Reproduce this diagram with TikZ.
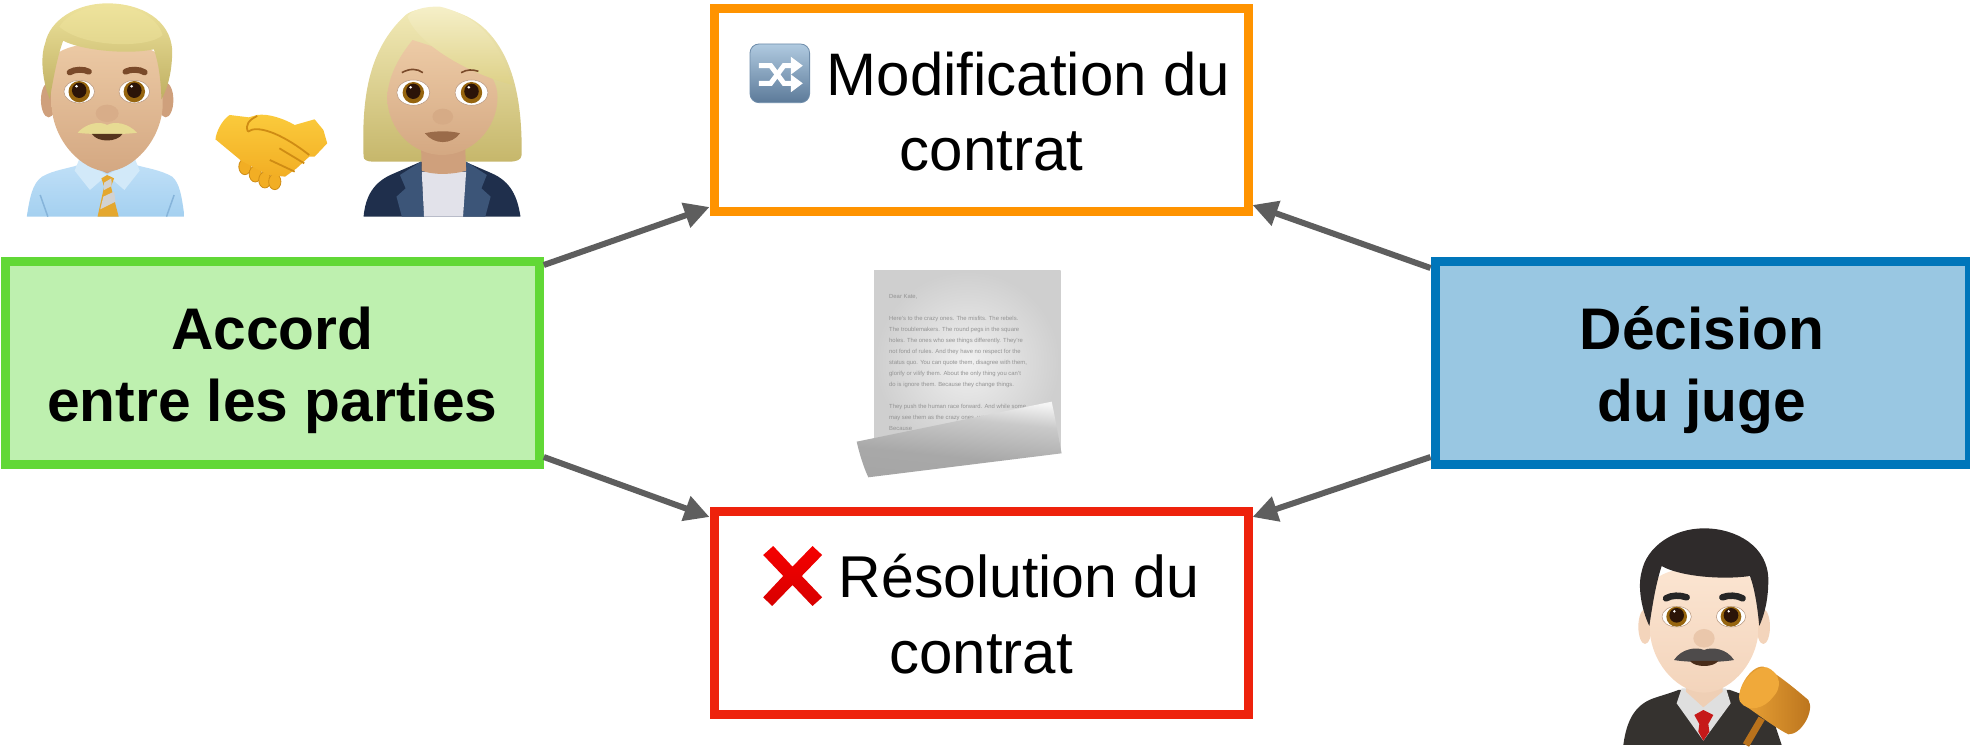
\documentclass[tikz,border=0pt]{standalone}
\usepackage{fontspec}
\setmainfont{Liberation Sans}
\usetikzlibrary{arrows.meta}
\definecolor{orangeB}{HTML}{FF9300}
\definecolor{redB}{HTML}{EE220C}
\definecolor{greenB}{HTML}{61D836}
\definecolor{greenF}{HTML}{BEF0AF}
\definecolor{blueB}{HTML}{0076BA}
\definecolor{blueF}{HTML}{99C7E2}
\definecolor{arrowG}{HTML}{5E5E5E}
\definecolor{shirtA}{HTML}{BFDFF7}
\definecolor{shirtB}{HTML}{A4D0F0}
\definecolor{shirtC}{HTML}{86B4DA}
\definecolor{skinA}{HTML}{EDCBA6}
\definecolor{skinB}{HTML}{D4A882}
\definecolor{skinD}{HTML}{CFA07C}
\definecolor{hairA}{HTML}{EEE39C}
\definecolor{hairB}{HTML}{BFAF62}
\definecolor{browM}{HTML}{7A4A2A}
\definecolor{irisC}{HTML}{96650F}
\definecolor{pupilC}{HTML}{2B1408}
\definecolor{goldT}{HTML}{E4A72E}
\definecolor{navyA}{HTML}{1F2F4C}
\definecolor{navyB}{HTML}{3C5578}
\definecolor{yellowA}{HTML}{FBCB3C}
\definecolor{yellowB}{HTML}{F2AE24}
\definecolor{yellowC}{HTML}{CF8C14}
\definecolor{jskinA}{HTML}{FCE6D3}
\definecolor{jskinB}{HTML}{F3D4BB}
\definecolor{jhair}{HTML}{2F2B2B}
\definecolor{robeC}{HTML}{35322F}
\definecolor{gavelA}{HTML}{F0A93A}
\definecolor{gavelB}{HTML}{B9721C}
\pgfdeclareverticalshading{curlshade}{100bp}{color(0bp)=(gray!45); color(25bp)=(gray!70); color(40bp)=(gray!68); color(62bp)=(gray!42); color(75bp)=(gray!8); color(100bp)=(white)}
\newcommand{\emojieye}[8]{%
  \fill[white] (#1,#2) ellipse [x radius=#3,y radius=#4];
  \draw[skinD!70!gray,line width=.5pt] (#1,#2) ellipse [x radius=#3,y radius=#4];
  \fill[irisC] (#1,#2) ellipse [x radius=#5,y radius=#6];
  \fill[pupilC] (#1,#2-4) ellipse [x radius=#7,y radius=#8];
  \fill[white] (#1-7,#2-16) circle [radius=4];
}
\tikzset{
  boxbase/.style={draw,line width=9pt,inner sep=0pt,rectangle},
  conn/.style={draw=arrowG,line width=6pt,-{Triangle[length=25pt,width=25pt]},shorten >=0pt}
}
\begin{document}
\begin{tikzpicture}[x=1pt,y=-1pt]
\useasboundingbox (0,0) rectangle (1970,747);

% boxes
\node[boxbase,draw=orangeB,fill=white] (mod) at (981,110) {\parbox[c][203pt][t]{534pt}{\centering\fontsize{60}{75.7}\selectfont\hspace*{95pt}\rule{0pt}{86.5pt}Modification du\\\hspace*{21pt}contrat\par}};
\node[boxbase,draw=redB,fill=white] (res) at (981,613) {\parbox[c][203pt][t]{534pt}{\centering\fontsize{60}{76}\selectfont\hspace*{76pt}\rule{0pt}{85.5pt}{\fontsize{59}{76}\selectfont Résolution du}\\contrat\par}};
\node[boxbase,draw=greenB,fill=greenF] (acc) at (272.3,363) {\parbox[c][203pt][t]{534pt}{\centering\fontsize{58.7}{72.5}\selectfont\bfseries\rule{0pt}{87.5pt}Accord\\entre les parties\par}};
\node[boxbase,draw=blueB,fill=blueF] (dec) at (1702,363) {\parbox[c][203pt][t]{534pt}{\centering\fontsize{58.7}{72.5}\selectfont\bfseries\rule{0pt}{87.5pt}Décision\\du juge\par}};

% connectors
\draw[conn] ([yshift=-8pt]acc.north east) -- ([yshift=9pt]mod.south west);
\draw[conn] ([yshift=12pt]acc.south east) -- ([yshift=-10pt]res.north west);
\draw[conn] ([yshift=-11pt]dec.north west) -- ([yshift=11pt]mod.south east);
\draw[conn] ([yshift=12pt]dec.south west) -- ([yshift=-10pt]res.north east);

% shuffle icon
\begin{scope}[shift={(700,0)},x=0.3571pt,y=-0.3333pt]
  \shade[top color={rgb,255:red,176;green,202;blue,224},bottom color={rgb,255:red,92;green,122;blue,153},rounded corners=9pt,draw={rgb,255:red,110;green,140;blue,170},line width=.8pt] (140,132) rectangle (307,308);
  \draw[white,line width=5pt,-{Triangle[length=12pt,width=17pt]}] (165,197) -- (198,197) -- (235,250) -- (288,250);
  \draw[white,line width=5pt,-{Triangle[length=12pt,width=17pt]}] (165,250) -- (198,250) -- (235,197) -- (288,197);
\end{scope}

% cross
\begin{scope}[shift={(700,500)},x=0.3571pt,y=-0.3333pt]
  \shade[top color={rgb,255:red,245;green,0;blue,0},bottom color={rgb,255:red,216;green,0;blue,0}]
   (177,165) -- (205,138) -- (259,200) -- (315,138) -- (342,165) -- (285,228) -- (342,292) -- (315,318) -- (259,255) -- (202,318) -- (177,292) -- (233,228) -- cycle;
\end{scope}

% man
\begin{scope}[x=0.3827pt,y=-0.3333pt]
  \shade[top color=shirtA,bottom color=shirtB] (70,650) .. controls (78,590) and (85,550) .. (110,530) .. controls (140,510) and (180,505) .. (205,495) -- (355,495) .. controls (385,505) and (420,510) .. (450,530) .. controls (470,550) and (475,590) .. (482,650) -- cycle;
  \draw[shirtC,line width=1.5pt] (105,585) -- (125,650) (455,585) -- (435,650);
  \fill[skinD] (225,440) -- (335,440) -- (335,490) -- (280,520) -- (225,490) -- cycle;
  \fill[shirtA!70!white] (207,478) -- (280,525) -- (235,570) -- (195,512) -- cycle;
  \fill[shirtA!70!white] (353,478) -- (280,525) -- (325,570) -- (365,512) -- cycle;
  \fill[goldT] (265,535) -- (280,525) -- (298,535) -- (290,560) -- (310,650) -- (255,650) -- (272,560) -- cycle;
  \fill[gray!35] (272,548) -- (291,535) -- (292,558) -- (272,570) -- cycle;
  \fill[gray!35] (270,590) -- (298,575) -- (302,605) -- (262,628) -- cycle;
  \fill[skinD] (127,300) ellipse [x radius=20,y radius=52];
  \fill[skinD] (433,300) ellipse [x radius=20,y radius=52];
  \shade[top color=skinA,middle color=skinA,bottom color=skinB] (135,180) -- (135,320) .. controls (140,420) and (210,510) .. (280,515) .. controls (350,510) and (420,420) .. (425,320) -- (425,180) .. controls (400,110) and (160,110) .. (135,180) -- cycle;
  \shade[top color=hairA,bottom color=hairB] (130,298) .. controls (110,240) and (105,170) .. (118,130) .. controls (130,60) and (200,10) .. (280,10) .. controls (370,10) and (445,60) .. (450,150) .. controls (450,210) and (440,260) .. (422,298) .. controls (420,240) and (415,190) .. (402,148) .. controls (330,165) and (210,150) .. (165,122) .. controls (150,170) and (140,230) .. (130,298) -- cycle;
  \shade[top color=hairA,bottom color=hairA!75!hairB] (155,80) .. controls (180,35) and (240,15) .. (285,15) .. controls (350,15) and (410,50) .. (425,105) .. controls (390,145) and (220,145) .. (155,80) -- cycle;
  \draw[browM,line width=6pt,line cap=round] (182,217) .. controls (195,207) and (220,207) .. (232,215);
  \draw[browM,line width=6pt,line cap=round] (328,215) .. controls (340,207) and (365,207) .. (378,217);
  \emojieye{207}{275}{40}{34}{28}{32}{19}{23}
  \emojieye{351}{275}{40}{34}{28}{32}{19}{23}
  \fill[skinD!70!skinA] (280,340) ellipse [x radius=30,y radius=26];
  \fill[hairA!85!hairB] (203,398) .. controls (225,370) and (260,362) .. (280,375) .. controls (300,362) and (335,370) .. (358,398) .. controls (330,404) and (230,404) .. (203,398) -- cycle;
  \fill[browM!70!black] (240,402) .. controls (255,428) and (305,428) .. (320,402) -- cycle;
\end{scope}

% handshake
\begin{scope}[x=0.3827pt,y=-0.3333pt]
  \foreach \fx/\fy in {640/500,667/522,692/540,718/545}
    \filldraw[fill=yellowB,draw=yellowC,line width=.8pt] (\fx,\fy) ellipse [x radius=16,y radius=24];
  \shade[top color=yellowA,bottom color=yellowB] (600,345) .. controls (580,360) and (565,395) .. (563,418) -- (630,482) -- (700,525) -- (745,530) -- (775,505) -- (808,470) -- (822,470) -- (855,430) -- (845,390) -- (822,358) -- (770,375) .. controls (740,355) and (700,340) .. (672,345) -- (650,352) -- cycle;
  \draw[yellowC,line width=1.8pt] (648,395) .. controls (670,375) and (730,395) .. (808,465);
  \draw[yellowC,line width=1.8pt] (648,395) .. controls (640,375) and (650,360) .. (672,348);
  \draw[yellowC,line width=1.8pt] (730,445) -- (795,490) (705,480) -- (770,515);
\end{scope}

% woman
\begin{scope}[x=0.3827pt,y=-0.3333pt]
  \shade[top color=hairA!70!white,bottom color=hairB!85!hairA] (950,470) .. controls (945,300) and (960,150) .. (1060,45) .. controls (1090,15) and (1200,10) .. (1270,90) .. controls (1340,170) and (1365,300) .. (1363,465) .. controls (1362,480) and (1350,485) .. (1330,485) -- (975,485) .. controls (960,485) and (950,480) .. (950,470) -- cycle;
  \fill[navyA] (950,650) .. controls (955,590) and (975,545) .. (1030,520) -- (1100,485) -- (1215,485) -- (1285,520) .. controls (1335,545) and (1352,590) .. (1360,650) -- cycle;
  \fill[navyB] (1100,485) -- (1045,525) -- (1060,565) -- (1036,590) -- (1050,650) -- (1108,650) -- cycle;
  \fill[navyB] (1218,485) -- (1272,525) -- (1258,565) -- (1282,590) -- (1268,650) -- (1210,650) -- cycle;
  \fill[gray!18!blue!4!white!92!black] (1102,515) -- (1218,515) -- (1210,650) -- (1108,650) -- cycle;
  \fill[skinD] (1100,430) -- (1215,430) -- (1218,512) .. controls (1180,525) and (1130,525) .. (1102,512) -- cycle;
  \shade[top color=skinA,middle color=skinA,bottom color=skinB] (1012,290) .. controls (1015,220) and (1050,160) .. (1078,120) -- (1240,180) .. controls (1280,210) and (1300,250) .. (1300,290) .. controls (1300,390) and (1230,465) .. (1155,465) .. controls (1080,465) and (1012,390) .. (1012,290) -- cycle;
  \shade[top color=hairA!55!white,bottom color=hairA!65!hairB] (1065,50) .. controls (1090,130) and (1220,220) .. (1340,255) .. controls (1310,140) and (1260,50) .. (1150,20) .. controls (1110,18) and (1075,30) .. (1065,50) -- cycle;
  \draw[browM,line width=1.6pt] (1050,218) .. controls (1070,205) and (1090,205) .. (1105,218);
  \draw[browM,line width=1.6pt] (1205,218) .. controls (1220,208) and (1235,208) .. (1250,214);
  \emojieye{1080}{278}{43}{38}{28}{32}{19}{23}
  \emojieye{1232}{278}{43}{38}{28}{32}{19}{23}
  \fill[skinD!75!skinA] (1157,350) ellipse [x radius=27,y radius=24];
  \fill[browM!65!skinB] (1110,400) .. controls (1135,392) and (1180,392) .. (1202,400) .. controls (1180,435) and (1135,435) .. (1110,400) -- cycle;
\end{scope}

% judge
\begin{scope}[shift={(1560,500)},x=0.3333pt,y=-0.3333pt]
  \fill[robeC] (190,735) .. controls (200,660) and (225,615) .. (280,595) .. controls (310,585) and (335,578) .. (355,570) -- (510,570) .. controls (550,585) and (610,600) .. (640,660) -- (665,735) -- cycle;
  \fill[gray!25] (365,565) -- (350,610) -- (430,722) -- (512,610) -- (498,565) -- cycle;
  \fill[jskinB!90!skinD] (378,530) -- (488,530) -- (488,575) -- (430,622) -- (378,575) -- cycle;
  \fill[red!75!black!90] (403,645) -- (430,630) -- (460,645) -- (445,672) -- (448,695) -- (430,722) -- (415,695) -- (418,672) -- cycle;
  \fill[jskinB] (255,380) ellipse [x radius=20,y radius=52];
  \fill[jskinB] (610,380) ellipse [x radius=20,y radius=52];
  \shade[top color=jskinA,middle color=jskinA,bottom color=jskinB] (270,260) -- (270,400) .. controls (280,500) and (360,578) .. (432,578) .. controls (505,578) and (585,500) .. (595,400) -- (595,260) .. controls (560,180) and (300,180) .. (270,260) -- cycle;
  \fill[jhair] (268,378) .. controls (245,330) and (232,260) .. (245,215) .. controls (260,140) and (340,85) .. (432,85) .. controls (530,85) and (625,140) .. (625,240) .. controls (625,295) and (615,340) .. (598,378) .. controls (592,320) and (585,270) .. (570,228) .. controls (490,240) and (360,230) .. (305,198) .. controls (288,250) and (278,310) .. (268,378) -- cycle;
  \draw[black!85,line width=6.5pt,line cap=round] (318,295) .. controls (335,285) and (360,285) .. (380,292);
  \draw[black!85,line width=6.5pt,line cap=round] (487,292) .. controls (505,285) and (530,285) .. (548,295);
  \emojieye{350}{350}{44}{31}{31}{30}{22}{22}
  \emojieye{513}{350}{44}{31}{31}{30}{22}{22}
  \fill[jskinB!75!skinD] (432,415) ellipse [x radius=32,y radius=28];
  \fill[jhair!85!white] (342,480) .. controls (365,445) and (410,440) .. (432,450) .. controls (455,440) and (500,445) .. (522,480) .. controls (480,488) and (385,488) .. (342,480) -- cycle;
  \fill[browM!60!black] (390,483) .. controls (405,503) and (460,503) .. (475,483) -- cycle;
  \draw[gavelB,line width=7pt] (605,655) -- (558,735);
  \shade[left color=gavelA,right color=gavelB] (610,500) .. controls (650,520) and (710,570) .. (745,600) .. controls (765,630) and (725,705) .. (685,703) .. controls (640,680) and (590,640) .. (545,610) .. controls (520,580) and (570,495) .. (610,500) -- cycle;
  \fill[gavelA] (540,605) .. controls (525,570) and (580,495) .. (620,502) .. controls (665,520) and (665,565) .. (640,590) .. controls (615,625) and (565,640) .. (540,605) -- cycle;
\end{scope}

% paper
\begin{scope}[shift={(820,250)},x=0.3333pt,y=-0.3333pt]
  \shade[inner color=gray!12,outer color=gray!38] (162,60) rectangle (722,610);
  \node[anchor=north west,inner sep=0pt,align=left,text=gray!85,font=\fontsize{5.9}{11}\selectfont] (letter) at (207,134) {Dear Kate,\\[11pt]Here's to the crazy ones. The misfits. The rebels.\\The troublemakers. The round pegs in the square\\holes. The ones who see things differently. They're\\not fond of rules. And they have no respect for the\\status quo. You can quote them, disagree with them,\\glorify or vilify them. About the only thing you can't\\do is ignore them. Because they change things.\\[11pt]They push the human race forward. And while some\\may see them as the crazy ones, we see genius.\\Because};
  \fill[white] (100,590) rectangle (162,690);
  \fill[white] (162,610) rectangle (740,700);
  \shade[shading=curlshade,shading angle=-6] (110,575) -- (695,455) .. controls (705,500) and (715,560) .. (725,610) -- (145,682) .. controls (130,650) and (118,610) .. (110,575) -- cycle;
\end{scope}
\end{tikzpicture}
\end{document}
